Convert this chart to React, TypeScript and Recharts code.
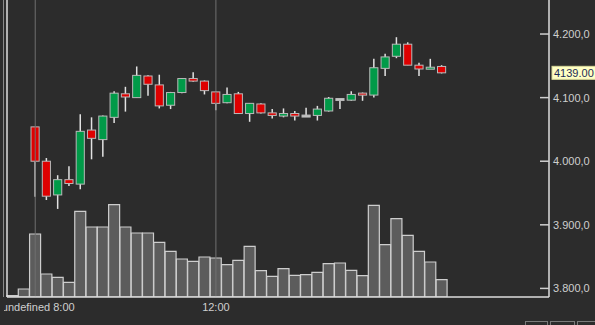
import React from 'react';
import { ComposedChart, Bar, XAxis, YAxis, ReferenceLine } from 'recharts';

// 15-minute slots (39 traded bars + empty space to the right)
const times = [
  '7:30', '7:45', '8:00', '8:15', '8:30', '8:45', '9:00', '9:15', '9:30', '9:45',
  '10:00', '10:15', '10:30', '10:45', '11:00', '11:15', '11:30', '11:45', '12:00', '12:15',
  '12:30', '12:45', '13:00', '13:15', '13:30', '13:45', '14:00', '14:15', '14:30', '14:45',
  '15:00', '15:15', '15:30', '15:45', '16:00', '16:15', '16:30', '16:45', '17:00', '17:15',
  '17:30', '17:45', '18:00', '18:15', '18:30', '18:45', '19:00', '19:15',
];

const opens = [
  null, null, 4054, 4000, 3947, 3971, 3964, 4049, 4034, 4069,
  4106, 4100, 4134, 4120, 4088, 4108, 4130, 4126, 4109, 4092,
  4106, 4075, 4090, 4076, 4071, 4075, 4071, 4072, 4079, 4097,
  4096, 4107, 4104, 4146, 4165, 4184, 4151, 4146, 4149,
];
const highs = [
  null, null, 4054, 4005, 3978, 3992, 4074, 4069, 4072, 4110,
  4117, 4149, 4135, 4136, 4109, 4131, 4140, 4127, 4110, 4116,
  4109, 4091, 4091, 4082, 4083, 4079, 4084, 4087, 4101, 4098,
  4110, 4108, 4161, 4169, 4195, 4187, 4155, 4161, 4151,
];
const lows = [
  null, null, 3944, 3939, 3925, 3961, 3956, 4003, 4007, 4060,
  4078, 4100, 4103, 4083, 4082, 4107, 4125, 4105, 4080, 4091,
  4075, 4062, 4075, 4067, 4069, 4064, 4070, 4064, 4078, 4082,
  4095, 4095, 4100, 4134, 4162, 4151, 4134, 4145, 4138,
];
const closes = [
  null, null, 4000, 3945, 3971, 3965, 4047, 4036, 4071, 4107,
  4101, 4135, 4121, 4087, 4108, 4130, 4126, 4111, 4091, 4105,
  4075, 4091, 4076, 4072, 4075, 4071, 4071, 4082, 4099, 4097,
  4105, 4104, 4147, 4164, 4184, 4151, 4145, 4146.5, 4139,
];
const volumes = [
  13, 80, 630, 230, 196, 146, 856, 700, 700, 923,
  700, 640, 640, 546, 456, 380, 356, 400, 390, 323,
  366, 506, 263, 206, 283, 216, 223, 246, 333, 340,
  266, 213, 916, 523, 783, 616, 456, 350, 173,
];

const priceTicks = [3800, 3900, 4000, 4100, 4200];
const sessionTimes = ['8:00', '12:00'];
const timeTickLabels = ['undefined 8:00', '12:00'];
const lastPrice = 4139;
const lastPriceLabel = '4139.00';

const data = times.map((t, i) => ({
  t,
  o: opens[i] ?? null,
  h: highs[i] ?? null,
  l: lows[i] ?? null,
  c: closes[i] ?? null,
  v: volumes[i] ?? null,
}));

const FONT = '"Liberation Sans", Arial, sans-serif';
const BG = '#2c2c2c';
const UP = '#009a48';
const DOWN = '#de0000';

const Candle = (props: any) => {
  const { x, y, width, height, payload } = props;
  if (!payload || payload.o == null || payload.h == null) return null;
  const { o, h, l, c } = payload;
  const top = Math.min(y, y + height);
  const hh = Math.abs(height);
  if (!(h > l)) return null;
  const k = hh / (h - l);
  const yOf = (p: number) => top + (h - p) * k;
  const cx = x + width / 2;
  const bw = width * 0.74;
  let by = yOf(Math.max(o, c));
  let bh = yOf(Math.min(o, c)) - by;
  if (bh < 2) {
    by -= (2 - bh) / 2;
    bh = 2;
  }
  const fill = c > o ? UP : c < o ? DOWN : '#c4c4c4';
  return (
    <g>
      <line x1={cx} x2={cx} y1={yOf(h)} y2={yOf(l)} stroke="#e2e2e2" strokeWidth={1.5} />
      <rect x={cx - bw / 2} y={by} width={bw} height={bh} fill={fill} stroke="#b9b9b9" strokeWidth={1} />
    </g>
  );
};

const formatPrice = (v: number) => {
  const s = Math.round(v).toString();
  const th = s.slice(0, s.length - 3);
  const rest = s.slice(s.length - 3);
  return `${th}.${rest},0`;
};

const PriceTick = (props: any) => {
  const { x, y, payload } = props;
  return (
    <g>
      <line x1={x - 13} x2={x - 4} y1={y} y2={y} stroke="#cfcfcf" strokeWidth={1.5} />
      <text x={x} y={y + 4} textAnchor="start" fill="#cfcfcf" fontSize={11} fontFamily={FONT}>
        {formatPrice(payload.value)}
      </text>
    </g>
  );
};

const TimeTick = (props: any) => {
  const { x, y, payload } = props;
  const idx = sessionTimes.indexOf(payload.value);
  if (idx < 0) return null;
  return (
    <text x={x + (idx === 0 ? 3 : 0)} y={y + 14} textAnchor="middle" fill="#cfcfcf" fontSize={11} fontFamily={FONT}>
      {timeTickLabels[idx]}
    </text>
  );
};

const PriceTag = (props: any) => {
  const vb = props.viewBox || {};
  const x0 = vb.x + vb.width + 3;
  const y0 = vb.y;
  return (
    <g>
      <rect x={x0} y={y0 - 6.5} width={50} height={13} fill="#ffffc4" stroke="#d8d89a" strokeWidth={1} />
      <text x={x0 + 2} y={y0 + 4} fill="#1d2b57" fontSize={11} fontFamily={FONT}>
        {lastPriceLabel}
      </text>
    </g>
  );
};

export default function App() {
  return (
    <div style={{ position: 'absolute', left: 0, top: 0, width: 595, height: 325, background: BG, overflow: 'hidden' }}>
      <ComposedChart
        width={595}
        height={325}
        data={data}
        margin={{ top: 0, right: 0, bottom: 0, left: 0 }}
        barCategoryGap={0}
        barGap={0}
      >
        <XAxis
          xAxisId="x"
          dataKey="t"
          type="category"
          ticks={sessionTimes}
          interval={0}
          height={28}
          tickSize={0}
          tickMargin={0}
          tickLine={false}
          axisLine={{ stroke: '#dcdcdc', strokeWidth: 1.5 }}
          tick={<TimeTick />}
        />
        <XAxis xAxisId="xc" dataKey="t" type="category" hide />
        <YAxis
          yAxisId="l"
          orientation="left"
          width={7}
          domain={[0, 1]}
          tick={false}
          tickLine={false}
          axisLine={{ stroke: '#dcdcdc', strokeWidth: 1.5 }}
        />
        <YAxis
          yAxisId="p"
          orientation="right"
          width={46}
          domain={[3786.5, 4253.5]}
          ticks={priceTicks}
          allowDataOverflow
          tickSize={0}
          tickMargin={4}
          tickLine={false}
          axisLine={{ stroke: '#dcdcdc', strokeWidth: 1.5 }}
          tick={<PriceTick />}
        />
        <YAxis yAxisId="v" orientation="right" hide domain={[0, 2970]} allowDataOverflow />
        {sessionTimes.map((t) => (
          <ReferenceLine key={t} xAxisId="x" yAxisId="p" x={t} stroke="#707070" strokeWidth={1} />
        ))}
        <Bar
          xAxisId="x"
          yAxisId="v"
          dataKey="v"
          fill="rgba(140,140,140,0.5)"
          stroke="#cdcdcd"
          strokeWidth={1.2}
          isAnimationActive={false}
        />
        <Bar
          xAxisId="xc"
          yAxisId="p"
          dataKey={(d: any) => (d.h == null ? null : [d.l, d.h])}
          shape={<Candle />}
          isAnimationActive={false}
        />
        <ReferenceLine
          xAxisId="x"
          yAxisId="p"
          y={lastPrice}
          stroke="none"
          label={(p: any) => <PriceTag {...p} />}
        />
      </ComposedChart>
      <div style={{ position: 'absolute', left: 0, top: 0, width: 4, height: 325, background: BG }} />
      <div style={{ position: 'absolute', left: 3, top: 0, width: 1, height: 297, background: '#8a8a8a' }} />
      <div style={{ position: 'absolute', left: 525, top: 321, width: 21, height: 10, border: '1px solid #7a7a7a' }} />
      <div style={{ position: 'absolute', left: 550, top: 321, width: 23, height: 10, border: '1px solid #7a7a7a' }} />
      <div style={{ position: 'absolute', left: 577, top: 321, width: 23, height: 10, border: '1px solid #7a7a7a' }} />
    </div>
  );
}
